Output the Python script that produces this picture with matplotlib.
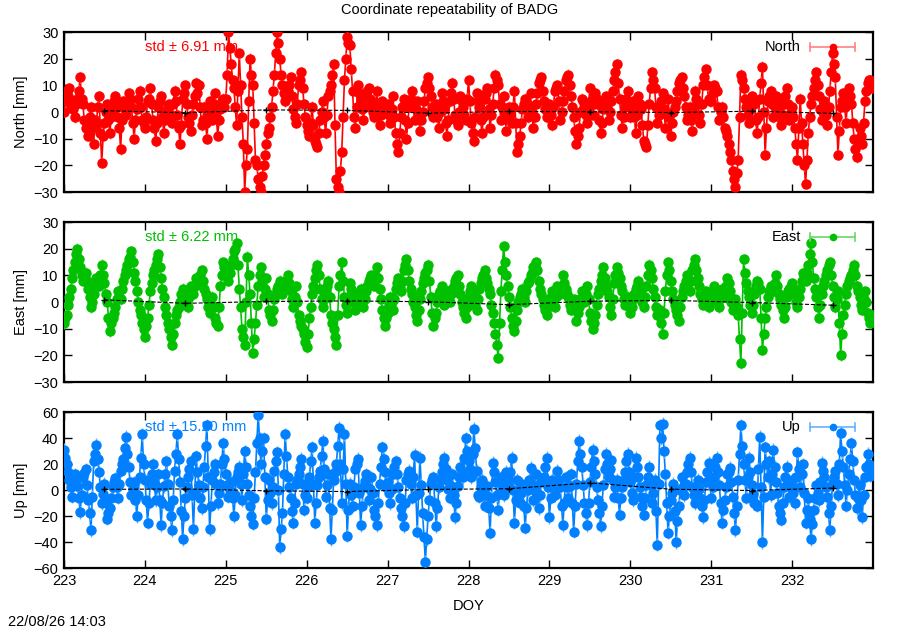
import numpy as np
import matplotlib
matplotlib.use("Agg")
import matplotlib.pyplot as plt

plt.rcParams['font.family'] = ['Liberation Sans', 'DejaVu Sans']
plt.rcParams['font.size'] = 10

# --------- data (mm), two interleaved epoch sets, 30 + 30 per day, DOY 223 .. 233 ---------
day_start = 223
per_day = 30

north = [
    0, 8, 9, 4, -2, 5, 13, 3, -6, -9, 2, -12, -5, 6, -19, -4, 3, -8, 1, 6, -2, -14, 4, -1, 7, 2, -10, 1, 8, -3,
    -6, 4, 9, -3, -11, 2, 6, -8, 0, 3, -4, 8, -1, -12, 5, 10, -2, -7, 3, 11, 10, -5, 2, -10, 4, -3, 7, -9, 1, 5,
    5, 30, 18, 9, -5, 22, -2, -30, -14, 20, 10, -18, -25, -30, -20, -12, -6, 2, 14, 30, 20, 10, 4, 8, 13, 1, -4, 10, 15, 3,
    -5, -9, 2, -11, -13, -3, 4, -8, 6, 10, 18, -25, -30, -15, 12, 28, 25, 8, -6, 10, 5, -3, 7, 9, 2, -2, 8, -5, 4, 1,
    3, -4, 6, -8, -15, -2, 5, -10, 2, 8, -3, 4, -7, 0, 9, 13, 6, -2, 3, -6, 7, 1, -9, 4, 11, -1, -5, 6, 2, -3,
    12, -4, -11, 7, 2, -8, 5, 9, -6, 3, 14, 10, -3, 6, -7, 2, -4, 8, -15, -9, 1, 5, -2, 7, -6, 3, 11, 13, 4, -2,
    3, -5, 8, 10, -3, 4, 12, 14, 6, -2, -12, -6, 5, 2, -4, 9, -1, 7, 3, -8, 1, 6, -3, 4, 12, 18, 5, -6, 2, 8,
    -2, 4, -8, 6, 1, -11, -13, 3, 15, 9, -4, 2, 7, -6, 5, -9, 0, 4, 11, 13, 6, -3, 2, -7, 8, 3, -4, 10, 16, 5,
    4, 10, 8, -3, 2, -6, -9, -15, -22, -28, -18, 14, 9, 2, -4, 6, 3, -8, 5, 17, -16, 4, 8, -2, 6, 1, -5, 3, 9, -3,
    2, -6, -18, 5, -12, -27, -8, 3, 9, 15, 6, -3, 4, -5, 8, 22, 13, -16, 2, 7, -4, 9, 3, -10, -17, -6, -12, 4, 11, 12,
]
north_b = [
    4, 6, 2, 1, 3, 8, 5, -3, -4, -2, -6, -3, 2, -8, -9, 0, -3, -2, 4, 2, -6, -3, 1, 3, 5, -4, -3, 5, 2, -4,
    -2, 5, 3, -6, -4, 4, -2, -3, 2, -1, 3, 4, -6, -5, 7, 3, -4, -1, 6, 7, 2, -3, -4, -2, 1, 3, -2, -3, 4, 2,
    14, 24, 12, 2, 8, 10, -12, -20, 4, 14, -4, -20, -28, -24, -16, -8, -2, 8, 22, 26, 14, 7, 6, 10, 6, -2, 3, 12, 9, -2,
    -7, -4, -5, -12, -8, 0, -2, -1, 8, 14, -5, -28, -22, -2, 20, 26, 16, -2, 2, 7, 1, 2, 8, 5, 0, 3, 1, -1, 2, 2,
    -1, 1, -2, -12, -8, 2, -3, -4, 5, 2, 1, -2, -3, 4, 11, 9, 2, 1, -2, 0, 4, -4, -3, 7, 5, -3, 0, 4, -1, 5,
    4, -8, -2, 4, -3, -2, 7, 1, -1, 9, 12, 3, 2, -1, -2, -1, 2, -4, -12, -4, 3, 2, 2, 0, -2, 7, 12, 8, 1, 0,
    -1, 2, 9, 4, 0, 8, 13, 10, 2, -7, -9, 0, 4, -1, 2, 4, 3, 5, -3, -4, 4, 2, 0, 8, 15, 11, -1, -2, 5, 3,
    1, -2, -1, 3, -5, -12, -5, 9, 12, 2, -1, 4, 1, -1, -2, -4, 2, 8, 12, 9, 2, -1, -3, 0, 5, -1, 3, 13, 10, 4,
    7, 9, 2, 0, -2, -7, -12, -18, -25, -23, -2, 12, 5, -1, 1, 4, -3, -2, 11, 0, -6, 6, 3, 2, 4, -2, -1, 6, 3, 0,
    -2, -12, -6, -4, -20, -18, -2, 6, 12, 10, 1, 0, -1, 2, 15, 18, -2, -7, 4, 2, 3, 6, -4, -14, -12, -9, -4, 8, 12, 9,
]

east = [
    -8, -5, 2, 9, 15, 20, 13, 8, 11, 5, -2, 3, 9, 6, 14, 7, 0, -11, -6, -2, 4, 1, 8, 12, 16, 19, 11, 4, -3, -8,
    -13, -6, 4, 10, 14, 18, 9, 2, -5, -10, -16, -8, -3, 0, 5, 2, -2, 6, 3, 9, 7, 12, 5, 1, -4, 2, -6, -9, 6, 15,
    12, 8, 14, 19, 22, 5, -10, -16, 17, 3, -19, -8, 6, 13, 2, 9, -3, -7, 1, 5, 8, 3, 7, 10, 4, -2, 6, -5, -9, -12,
    -17, -6, 3, 9, 14, 5, -2, 4, 8, -5, -10, -16, 6, 15, 2, -4, 7, 3, -3, 1, 5, -2, 4, 8, 10, 6, 13, 5, -3, -9,
    -4, 2, -3, 5, 9, 4, 12, 16, 8, 3, -2, -7, 1, 7, 11, 14, 2, -9, -4, 3, 6, -1, 4, 0, 5, 8, 10, 3, -2, -6,
    2, 6, 1, -3, 5, 9, 12, 7, 3, -4, -12, -21, 4, 21, 10, 2, -6, -11, -3, 2, 5, 0, 7, 10, 13, 15, 8, 3, -1, -5,
    1, 4, -2, 6, 3, 10, 5, 2, -3, 1, -7, -2, 4, 0, 6, -4, -10, -5, 3, 8, 13, 6, 2, -5, 7, 13, 9, 4, -1, 2,
    -4, 1, 5, 8, 3, -2, 6, 14, 9, 2, -5, -3, -12, 4, 15, 8, 1, -3, -7, 2, 6, 10, 4, 12, 16, 9, 3, -1, 4, -2,
    3, 6, 1, -2, 5, 2, 9, 4, -3, 1, -5, -23, 16, 7, 2, -4, 3, 8, 5, -18, -6, 2, 6, 4, 10, 3, -1, -6, 2, 5,
    7, 3, -2, 5, 11, 8, 14, 22, 9, 2, -6, 3, 8, 12, 15, 6, -2, 4, -20, -5, 3, 8, 10, 14, 6, 2, -3, 4, -4, -8,
]
east_b = [
    -6, -1, 5, 12, 18, 16, 10, 10, 8, 2, 0, 6, 8, 10, 10, 3, -6, -8, -4, 1, 2, 5, 10, 14, 17, 15, 8, 0, -5, -10,
    -9, -1, 7, 12, 16, 13, 5, -2, -8, -13, -12, -5, -2, 3, 4, 0, 2, 5, 6, 8, 10, 8, 3, -2, -1, -2, -8, -2, 10, 13,
    10, 11, 16, 20, 14, -2, -13, 0, 10, -8, -14, -1, 10, 8, 5, 3, -5, -3, 3, 6, 5, 5, 8, 7, 1, 2, 0, -7, -10, -15,
    -12, -2, 6, 12, 10, 1, 1, 6, 2, -8, -13, -5, 10, 8, -1, 2, 5, 0, -1, 3, 2, 1, 6, 9, 8, 10, 9, 1, -6, -6,
    -1, 0, 1, 7, 6, 8, 14, 12, 5, 0, -5, -3, 4, 9, 12, 8, -4, -6, 0, 4, 2, 1, 2, 3, 6, 9, 6, 0, -4, -2,
    4, 3, -1, 1, 7, 10, 9, 5, -1, -8, -16, -8, 12, 15, 6, -2, -9, -7, 0, 3, 2, 4, 8, 11, 14, 12, 5, 1, -3, -2,
    2, 1, 2, 4, 6, 7, 3, -1, -1, -3, -4, 1, 2, 3, 1, -7, -8, -1, 5, 10, 9, 4, -2, 1, 10, 11, 6, 1, 0, -1,
    -2, 3, 6, 5, 0, 2, 10, 12, 5, -2, -4, -8, -4, 10, 12, 4, -1, -5, -2, 4, 8, 7, 8, 14, 12, 6, 1, 2, 1, 0,
    4, 3, 0, 2, 3, 6, 7, 0, -1, -2, -14, -4, 11, 4, -1, -1, 6, 7, -6, -12, -2, 4, 5, 7, 6, 1, -3, -2, 4, 6,
    5, 0, 2, 8, 10, 11, 18, 15, 5, -2, -1, 6, 10, 14, 10, 2, 1, -8, -12, -1, 6, 9, 12, 10, 4, -1, 1, 0, -6, -5,
]

up = [
    31, 20, 8, -5, 12, 3, -17, 10, 16, -8, -31, 22, 35, 14, -10, 5, -22, -14, 2, 9, -6, 15, 24, 41, 18, -4, 6, -20, 10, 43,
    8, -25, 5, 20, -8, 12, -27, 3, 22, -12, -31, 15, 43, 6, -38, -6, 10, 22, -30, 26, 4, -14, 18, 50, -30, 8, 20, -10, 5, 36,
    12, -5, 6, -20, 10, 18, -8, 30, 5, -12, -26, 14, 58, 20, 40, -22, 8, -10, 15, 29, -44, -18, 43, 10, -6, -25, 5, 12, 24, -15,
    -6, 10, 33, -25, 4, 15, 38, -5, 12, -38, 8, 20, 48, -10, 43, -35, 5, -12, 16, 24, -27, 2, 12, -8, 10, -15, -27, 5, 33, 14,
    6, -10, 12, 22, 2, -14, -28, 8, 15, -6, 27, -32, 25, -18, -55, -20, 5, 10, -28, 2, 14, 25, 8, -6, 12, -21, 3, 18, 10, 40,
    22, 10, 47, 15, -5, 8, -12, 3, -33, 21, 6, -15, 10, -4, 14, 2, 25, -25, 8, -10, 5, -29, 0, 17, -8, 12, -14, 6, 10, 25,
    -21, 8, -4, 15, 2, -27, 10, -6, 12, -32, 5, 38, 18, -10, -27, 6, 31, 12, -8, -28, 4, 28, 10, 23, -5, 8, -19, 2, 14, 28,
    6, -8, 25, 10, -5, -19, 4, 18, -10, 8, -42, 50, 51, 12, -33, -8, 5, -40, -12, 10, -4, 14, 25, 2, -10, 8, -6, -21, 6, 21,
    -6, 10, 25, 4, -25, -8, 12, 17, -5, -31, 8, 50, 20, -6, 25, 4, -10, -12, 41, -40, 33, 10, -4, 31, 6, -12, -23, 2, 18, -5,
    8, -10, 29, 2, 20, -25, -6, -38, -15, 4, -8, 21, 10, -5, -31, 6, 15, -4, 44, 18, -12, 12, 36, 8, -14, 4, -21, 10, 28, 11,
]
up_b = [
    25, 14, 2, 4, 8, -6, -4, 13, 4, -18, -5, 28, 24, 2, -3, -8, -18, -6, 6, 2, 5, 20, 32, 28, 6, 1, -8, -4, 25, 20,
    -8, -10, 12, 6, 2, -8, -10, 12, 5, -20, -8, 28, 24, -16, -20, 2, 16, -4, -2, 14, -6, 2, 34, 10, -12, 14, 5, -2, 20, 24,
    4, 0, -6, -4, 14, 5, 12, 18, -4, -20, -6, 36, 40, 30, 10, -8, -2, 2, 22, 0, -30, 12, 26, 2, -16, -10, 8, 18, 5, -4,
    2, 22, 5, -10, 10, 26, 16, 4, -14, -15, 14, 34, 20, 16, 5, -15, -4, 2, 20, -2, -12, 7, 2, 1, -2, -20, -10, 18, 24, 2,
    -2, 1, 18, 12, -6, -20, -10, 12, 5, 10, -4, -2, 4, -36, -38, -8, 8, -10, -14, 8, 20, 16, 1, 3, -4, -10, 10, 14, 25, 30,
    16, 28, 32, -4, 2, -2, -4, -14, -6, 14, -4, -2, 3, 5, 8, 14, 0, -8, -2, -2, -12, -14, 8, 4, 2, -2, -4, 8, 18, 2,
    -6, 2, 6, 8, -12, -10, 2, 3, -10, -12, 22, 28, 4, -18, -10, 18, 22, 2, -18, -12, 16, 20, 16, 8, 2, -6, -6, 8, 22, 14,
    -2, 10, 18, 2, -12, -6, 10, 4, -2, -16, 5, 40, 30, -10, -20, -2, -16, -24, 0, 2, 5, 20, 14, -4, -2, 1, -12, -8, 14, 8,
    2, 18, 14, -10, -15, 2, 14, 6, -18, -12, 28, 34, 8, 10, 14, -3, -11, 16, 2, -5, 20, 22, 12, 18, -2, -18, -10, 10, 6, 2,
    -2, 10, 16, 12, -2, -15, -22, -26, -6, -2, 6, 15, 2, -18, -12, 10, 5, 20, 30, 4, 0, 24, 22, -4, -6, -8, -4, 18, 20, 16,
]

# daily means (black dashed reference line)
mean_days = [223.5, 224.5, 225.5, 226.5, 227.5, 228.5, 229.5, 230.5, 231.5, 232.5]
north_mean = [0.5, -0.3, 0.8, 0.6, -0.4, 0.2, 0.1, -0.2, 0.3, -0.5]
east_mean = [0.8, -0.5, 0.2, 0.4, 0.1, -1.0, 0.3, 0.6, -0.2, -1.2]
up_mean = [0.5, 0.8, -0.6, -1.2, 0.4, 1.0, 5.5, 0.6, -0.4, 1.5]

sigma = dict(North=2.0, East=2.0, Up=5.0)
std_text = dict(North='6.91', East='6.22', Up='15.20')

components = ['North', 'East', 'Up']
values = dict(North=(north, north_b), East=(east, east_b), Up=(up, up_b))
means = dict(North=north_mean, East=east_mean, Up=up_mean)
colors = dict(North='#ff0000', East='#00c000', Up='#0080ff')
bar_colors = dict(North='#ff8080', East='#66d966', Up='#66b3ff')
ylims = dict(North=(-30, 30), East=(-30, 30), Up=(-60, 60))
ysteps = dict(North=10, East=10, Up=20)

doy_ticks = list(range(223, 233))

# --------- figure ---------
fig = plt.figure(figsize=(9, 6.3), dpi=100)
boxes = [
    [64 / 900, 1 - 192 / 630, 809 / 900, 160 / 630],
    [64 / 900, 1 - 382 / 630, 809 / 900, 160 / 630],
    [64 / 900, 1 - 568 / 630, 809 / 900, 156 / 630],
]

for comp, box in zip(components, boxes):
    ax = fig.add_axes(box)
    ya, yb = values[comp]
    ta = day_start + np.arange(len(ya)) / per_day
    tb = ta + 0.5 / per_day
    # interleave the two epoch sets in time order
    t = np.column_stack([ta, tb]).ravel()
    y = np.column_stack([ya, yb]).ravel().astype(float)
    col = colors[comp]

    ax.plot(t, y, '-', color=col, lw=1.2, zorder=2)
    ax.errorbar(t, y, yerr=sigma[comp], xerr=0.022, fmt='o', ms=6.5,
                color=col, ecolor=bar_colors[comp], elinewidth=1, capsize=0,
                zorder=3)
    ax.plot(mean_days, means[comp], '--', color='black', lw=0.8,
            marker='+', ms=4, zorder=4)

    lo, hi = ylims[comp]
    ax.set_ylim(lo, hi)
    ax.set_yticks(np.arange(lo, hi + 1, ysteps[comp]))
    ax.set_xlim(223, 233)
    ax.set_xticks(doy_ticks)
    ax.tick_params(direction='in', length=6, width=1, top=True, right=True,
                   labelsize=10.5, pad=4)
    for sp in ax.spines.values():
        sp.set_linewidth(1.6)
    ax.set_ylabel(f'{comp} [mm]', fontsize=10.5, labelpad=4)

    # std label sits beneath the data points
    ax.text(0.1, 0.905, f'std ± {std_text[comp]} mm', transform=ax.transAxes,
            color=col, fontsize=10.5, ha='left', va='center', zorder=1)

    # key: label + errorbar sample
    ky = 0.905
    ax.text(0.911, ky, comp, transform=ax.transAxes, fontsize=10.5,
            ha='right', va='center', zorder=6)
    ax.plot([0.922, 0.978], [ky, ky], color=bar_colors[comp], lw=1.2,
            transform=ax.transAxes, clip_on=False, zorder=6)
    for cx in (0.922, 0.978):
        ax.plot([cx, cx], [ky - 0.025, ky + 0.025], color=bar_colors[comp],
                lw=1.2, transform=ax.transAxes, clip_on=False, zorder=6)
    ax.plot([0.95], [ky], 'o', ms=4.5, color=col, transform=ax.transAxes,
            zorder=6)

    if comp != 'Up':
        ax.set_xticklabels([])
    else:
        ax.set_xlabel('DOY', fontsize=10.5, labelpad=8)

fig.text(0.5, 1 - 10 / 630, 'Coordinate repeatability of BADG', ha='center',
         va='center', fontsize=10.5)
fig.text(8 / 900, 1 - 622 / 630, '22/08/26 14:03', ha='left', va='center',
         fontsize=10.5)

fig.savefig('out.png', dpi=100)
